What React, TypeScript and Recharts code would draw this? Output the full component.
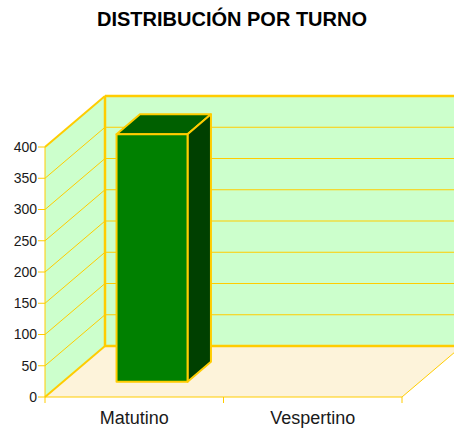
import { Bar, BarChart, CartesianGrid, XAxis, YAxis } from "recharts";

const TITLE = "DISTRIBUCIÓN POR TURNO";
const CATEGORIES = ["Matutino", "Vespertino"];
const COUNTS = [396, 0];
const Y_TICKS = [0, 50, 100, 150, 200, 250, 300, 350, 400];

const data = CATEGORIES.map((turno, i) => ({ turno, total: COUNTS[i] }));

const W = 454;
const H = 430;
const MARGIN = { top: 147, right: 52, bottom: 0, left: 0 };
const Y_AXIS_W = 45;
const X_AXIS_H = 33;
const PLOT_W = W - MARGIN.left - MARGIN.right - Y_AXIS_W;
const PLOT_TOP = MARGIN.top;
const PLOT_BOTTOM = H - MARGIN.bottom - X_AXIS_H;

// 3D depth of the walls (back wall offset from the front plane)
const DX = 60;
const DY = -51;
// where the box sits inside the depth (0 = front, 1 = back wall)
const BAR_FRONT = 0.3;
const BAR_BACK = 0.69;

const GOLD = "#FFCC00";
const WALL = "#CCFFCC";
const FLOOR = "#FDF3DA";
const FRONT = "#008000";
const TOP = "#006000";
const SIDE = "#004000";
const TEXT = "#1a1a1a";
const FONT = "'Liberation Sans', Arial, sans-serif";

function GridLine(props: any) {
  const { x1, y1, x2, index } = props;
  const left = props.x ?? x1;
  const right = props.width != null ? left + props.width : x2;
  const top = props.y ?? PLOT_TOP;
  const bottom = props.height != null ? top + props.height : PLOT_BOTTOM;
  const isTop = Math.abs(y1 - top) < 0.5;
  const isBottom = Math.abs(y1 - bottom) < 0.5;

  return (
    <g>
      {index === 0 && (
        <g>
          <polygon
            points={`${left + DX},${top + DY} ${right + DX},${top + DY} ${right + DX},${bottom + DY} ${left + DX},${bottom + DY}`}
            fill={WALL}
          />
          <polygon
            points={`${left},${top} ${left + DX},${top + DY} ${left + DX},${bottom + DY} ${left},${bottom}`}
            fill={WALL}
          />
          <polygon
            points={`${left},${bottom} ${left + DX},${bottom + DY} ${right + DX},${bottom + DY} ${right},${bottom}`}
            fill={FLOOR}
          />
          <line x1={right} y1={bottom} x2={right + DX} y2={bottom + DY} stroke={GOLD} strokeWidth={1} />
          <line x1={left + DX} y1={top + DY} x2={left + DX} y2={bottom + DY} stroke={GOLD} strokeWidth={2.5} />
        </g>
      )}
      <line
        x1={left}
        y1={y1}
        x2={left + DX}
        y2={y1 + DY}
        stroke={GOLD}
        strokeWidth={isTop || isBottom ? 2 : 1}
      />
      <line
        x1={left + DX}
        y1={y1 + DY}
        x2={right + DX}
        y2={y1 + DY}
        stroke={GOLD}
        strokeWidth={isTop || isBottom ? 2.5 : 1}
      />
    </g>
  );
}

function Box3D(props: any) {
  const { x, y, width, height } = props;
  if (!height || height <= 0) return null;
  const fx = x + BAR_FRONT * DX;
  const fy = y + BAR_FRONT * DY;
  const d = (BAR_BACK - BAR_FRONT) * DX;
  const e = (BAR_BACK - BAR_FRONT) * DY;
  return (
    <g stroke={GOLD} strokeWidth={2} strokeLinejoin="round">
      <polygon
        points={`${fx},${fy} ${fx + d},${fy + e} ${fx + width + d},${fy + e} ${fx + width},${fy}`}
        fill={TOP}
      />
      <polygon
        points={`${fx + width},${fy} ${fx + width + d},${fy + e} ${fx + width + d},${fy + height + e} ${fx + width},${fy + height}`}
        fill={SIDE}
      />
      <rect x={fx} y={fy} width={width} height={height} fill={FRONT} />
    </g>
  );
}

function CategoryTick(props: any) {
  const { x, y, payload, index, visibleTicksCount } = props;
  const half = payload?.offset ?? PLOT_W / CATEGORIES.length / 2;
  const last = index === (visibleTicksCount ?? CATEGORIES.length) - 1;
  return (
    <g>
      <line x1={x - half} y1={y} x2={x - half} y2={y + 6} stroke={GOLD} />
      {last && <line x1={x + half} y1={y} x2={x + half} y2={y + 6} stroke={GOLD} />}
      <text x={x} y={y + 14} dy="0.71em" textAnchor="middle" fill={TEXT} fontSize={18} fontFamily={FONT}>
        {payload.value}
      </text>
    </g>
  );
}

export default function App() {
  return (
    <div style={{ position: "absolute", left: 0, top: 0, width: W, height: H, background: "#fff", fontFamily: FONT }}>
      <div
        style={{
          position: "absolute",
          left: 0,
          top: 8,
          width: 464,
          textAlign: "center",
          fontSize: 20,
          fontWeight: "bold",
          color: "#000",
          whiteSpace: "nowrap",
        }}
      >
        {TITLE}
      </div>
      <BarChart width={W} height={H} data={data} margin={MARGIN} barCategoryGap="30%">
        <CartesianGrid horizontal={GridLine} vertical={false} />
        <XAxis
          dataKey="turno"
          height={X_AXIS_H}
          axisLine={{ stroke: GOLD }}
          tickLine={false}
          tickSize={0}
          tickMargin={0}
          tick={CategoryTick}
          interval={0}
        />
        <YAxis
          type="number"
          domain={[0, 400]}
          ticks={Y_TICKS}
          width={Y_AXIS_W}
          tickSize={7}
          tickMargin={1}
          axisLine={{ stroke: GOLD }}
          tickLine={{ stroke: GOLD }}
          tick={{ fill: TEXT, fontSize: 14, fontFamily: FONT }}
          interval={0}
        />
        <Bar dataKey="total" shape={Box3D} isAnimationActive={false} />
      </BarChart>
    </div>
  );
}
